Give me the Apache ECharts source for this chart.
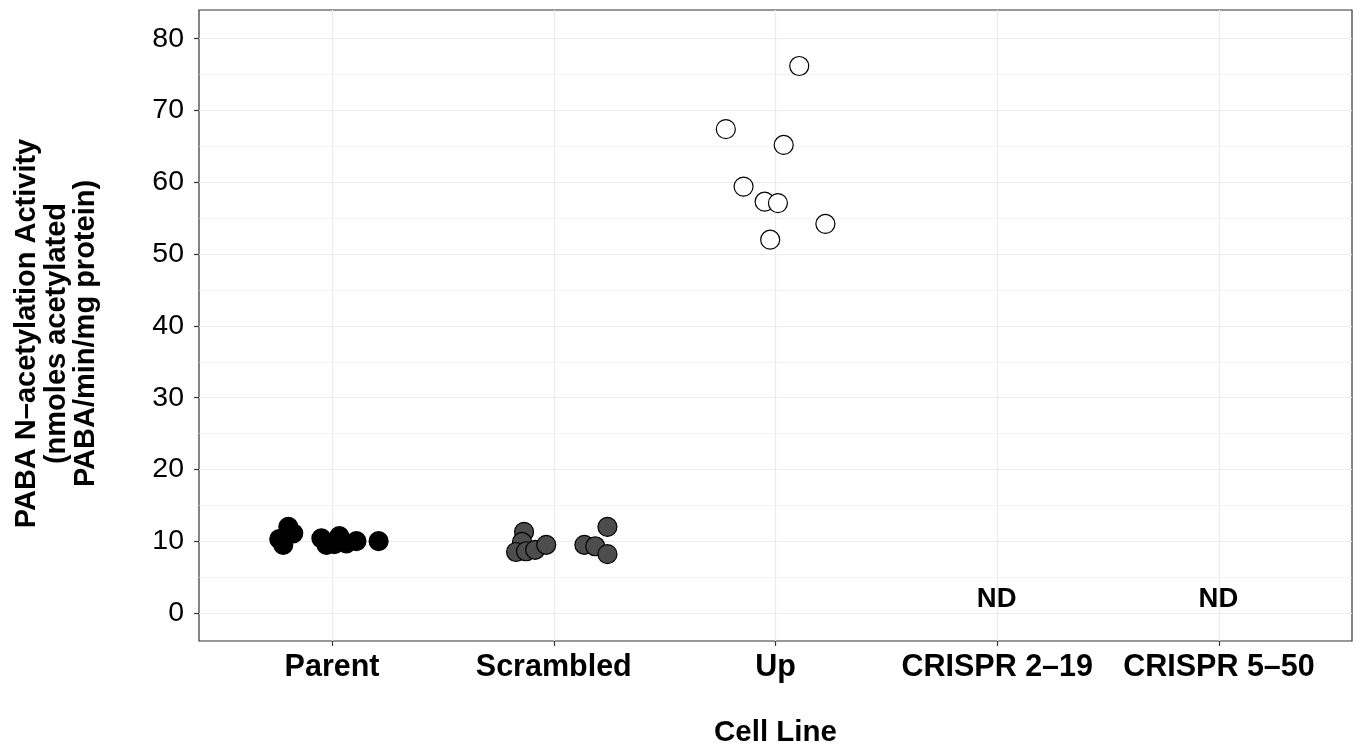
<!DOCTYPE html>
<html>
<head>
<meta charset="utf-8">
<script src="https://cdn.jsdelivr.net/npm/echarts@6/dist/echarts.min.js"></script>
<style>html,body{margin:0;padding:0;background:#fff;}#chart{width:1357px;height:750px;}</style>
</head>
<body>
<div id="chart"></div>
<script>
// Categories (x positions 1..5)
const categories = ['Parent', 'Scrambled', 'Up', 'CRISPR 2\u201319', 'CRISPR 5\u201350'];
const yTicks = [0, 10, 20, 30, 40, 50, 60, 70, 80];
const yMinorTicks = [5, 15, 25, 35, 45, 55, 65, 75];

// Jittered x positions and values
const parentX = [0.762, 0.780, 0.803, 0.825, 0.952, 0.975, 1.011, 1.033, 1.065, 1.110, 1.210];
const parentY = [10.3, 9.5, 12.0, 11.1, 10.4, 9.5, 9.6, 10.7, 9.7, 10.0, 10.0];

const scrambledX = [1.866, 1.857, 1.830, 1.875, 1.916, 1.966, 2.138, 2.187, 2.242, 2.242];
const scrambledY = [11.3, 9.9, 8.5, 8.6, 8.8, 9.5, 9.5, 9.3, 12.0, 8.2];

const upX = [3.107, 2.776, 3.037, 2.856, 2.951, 3.011, 3.225, 2.976];
const upY = [76.2, 67.4, 65.2, 59.4, 57.3, 57.1, 54.2, 52.0];

const ndX = [4, 5];
const ndY = [1.8, 1.8];
const ndText = ['ND', 'ND'];

const font = 'Liberation Sans, Arial, Helvetica, sans-serif';
const zip = (xs, ys) => xs.map((x, i) => [x, ys[i]]);

const chart = echarts.init(document.getElementById('chart'), null, {renderer: 'canvas'});
const pointStyle = (fill) => ({color: fill, borderColor: '#000', borderWidth: 1.2, opacity: 1});

chart.setOption({
  animation: false,
  backgroundColor: '#fff',
  grid: {left: 199, top: 10, right: 5, bottom: 109, containLabel: false, outerBoundsMode: 'none',
    show: true, borderColor: '#333333', borderWidth: 1.2, backgroundColor: 'transparent'},
  xAxis: {
    type: 'value', min: 0.4, max: 5.6,
    name: 'Cell Line', nameLocation: 'middle', nameGap: 77,
    nameTextStyle: {fontFamily: font, fontSize: 29.5, fontWeight: 'bold', color: '#000'},
    axisLine: {show: false, onZero: false},
    axisTick: {show: true, length: 5, lineStyle: {color: '#333333', width: 1.2}, customValues: [1, 2, 3, 4, 5]},
    axisLabel: {customValues: [1, 2, 3, 4, 5], margin: 11, fontFamily: font, fontSize: 30.5, fontWeight: 'bold', color: '#000',
      formatter: v => categories[Math.round(v) - 1] || ''},
    splitLine: {show: true, lineStyle: {color: '#ebebeb', width: 1.2}}
  },
  yAxis: [{
    type: 'value', min: -3.9, max: 84,
    name: 'PABA N\u2013acetylation Activity\n(nmoles acetylated\nPABA/min/mg protein)',
    nameLocation: 'middle', nameGap: 98, nameRotate: 90,
    nameTextStyle: {fontFamily: font, fontSize: 29, fontWeight: 'bold', color: '#000', lineHeight: 29.5, align: 'center', padding: [0, 16, 0, 0]},
    axisLine: {show: false, onZero: false},
    axisTick: {show: true, length: 5, lineStyle: {color: '#333333', width: 1.2}, customValues: yTicks},
    axisLabel: {customValues: yTicks, margin: 15, fontFamily: font, fontSize: 28.5, color: '#000'},
    splitLine: {show: true, lineStyle: {color: '#ebebeb', width: 1.2}}
  }, {
    type: 'value', min: -3.9, max: 84, position: 'left',
    axisLine: {show: false, onZero: false},
    axisTick: {show: false, customValues: yMinorTicks},
    axisLabel: {show: false, customValues: yMinorTicks},
    splitLine: {show: true, lineStyle: {color: '#ebebeb', width: 0.6}}
  }],
  series: [
    {name: 'Parent', type: 'scatter', symbol: 'circle', symbolSize: 19, data: zip(parentX, parentY), itemStyle: pointStyle('#000000')},
    {name: 'Scrambled', type: 'scatter', symbol: 'circle', symbolSize: 19, data: zip(scrambledX, scrambledY), itemStyle: pointStyle('#4d4d4d')},
    {name: 'Up', type: 'scatter', symbol: 'circle', symbolSize: 19, data: zip(upX, upY), itemStyle: pointStyle('#ffffff')},
    {name: 'ND', type: 'scatter', symbolSize: 1, data: zip(ndX, ndY), silent: true,
      itemStyle: {color: 'transparent', opacity: 1},
      label: {show: true, position: [0, 0], align: 'center', verticalAlign: 'middle', formatter: p => ndText[p.dataIndex],
        fontFamily: font, fontSize: 27.5, fontWeight: 'bold', color: '#000000', opacity: 1}}
  ]
});
</script>
</body>
</html>
